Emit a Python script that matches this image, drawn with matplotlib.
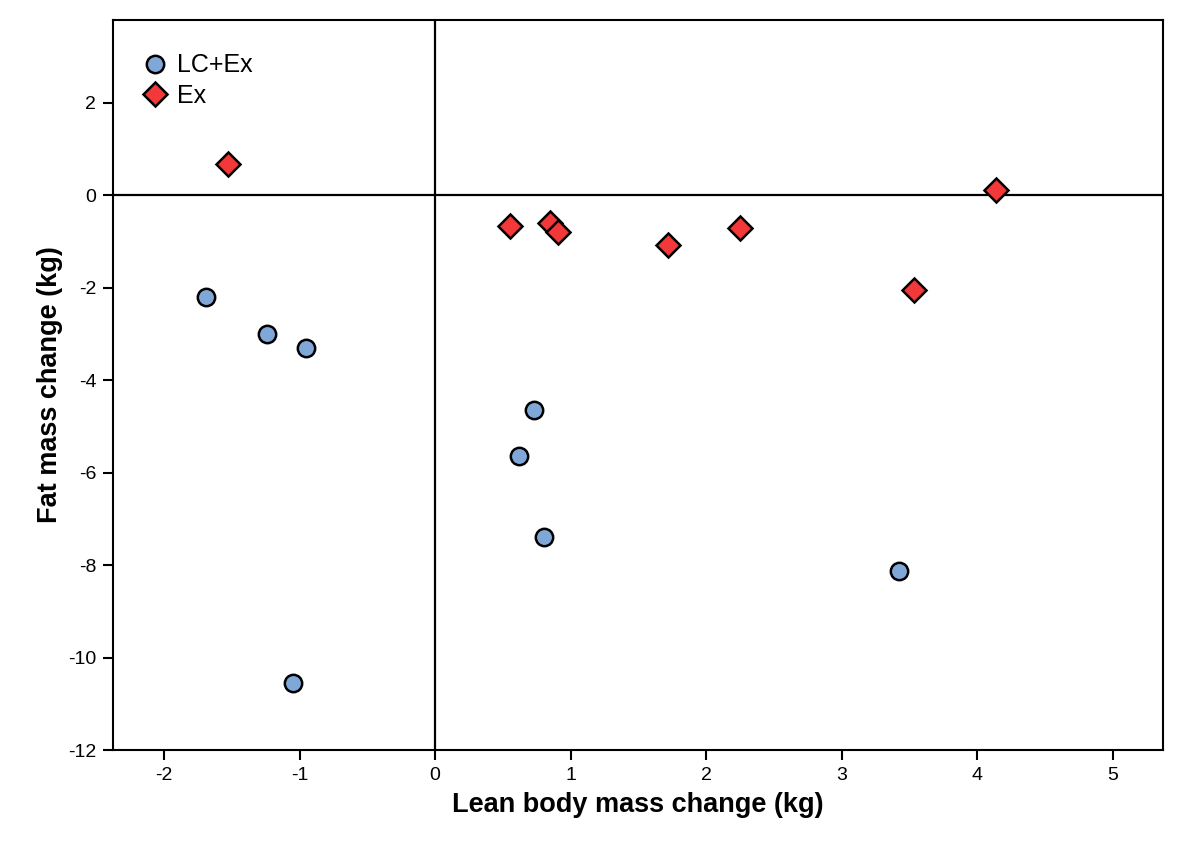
import matplotlib
matplotlib.use("Agg")
import matplotlib.pyplot as plt

plt.rcParams['font.family'] = ['Liberation Sans', 'DejaVu Sans']
plt.rcParams['axes.unicode_minus'] = False

# LC+Ex group
lc_lean = [-1.69, -1.24, -0.95, -1.05, 0.73, 0.62, 0.80, 3.42]
lc_fat = [-2.21, -3.00, -3.31, -10.56, -4.65, -5.63, -7.40, -8.12]

# Ex group
ex_lean = [-1.53, 0.55, 0.85, 0.91, 1.72, 2.25, 3.53, 4.14]
ex_fat = [0.67, -0.66, -0.60, -0.80, -1.08, -0.71, -2.05, 0.11]

fig = plt.figure(figsize=(12, 8.49), dpi=100)
ax = fig.add_axes([0.0942, 0.1166, 0.8750, 0.8598])

ax.axhline(0, color='black', lw=1.6, zorder=1)
ax.axvline(0, color='black', lw=1.6, zorder=1)

ax.plot(lc_lean, lc_fat, 'o', ms=12.5, mfc='#7fa8d8', mec='black', mew=1.8,
        ls='none', label='LC+Ex', zorder=3)
ax.plot(ex_lean, ex_fat, 'D', ms=12.5, mfc='#f23838', mec='black', mew=1.8,
        ls='none', label='Ex', zorder=3)

ax.set_xlim(-2.376, 5.37)
ax.set_ylim(-12, 3.79)
ax.set_xticks(range(-2, 6))
ax.set_yticks(range(-12, 3, 2))

ax.tick_params(direction='out', length=7, width=1.5, labelsize=14, pad=5)
for s in ax.spines.values():
    s.set_linewidth(1.5)

ax.set_xlabel('Lean body mass change (kg)', fontsize=19.5, fontweight='bold', labelpad=6)
ax.set_ylabel('Fat mass change (kg)', fontsize=19.5, fontweight='bold', labelpad=4)

ax.legend(loc='upper left', bbox_to_anchor=(0.004, 0.985), frameon=False, fontsize=18,
          handletextpad=0.3, borderaxespad=0.5, labelspacing=0.25, handlelength=1.2)

fig.savefig('out.png', dpi=100)
